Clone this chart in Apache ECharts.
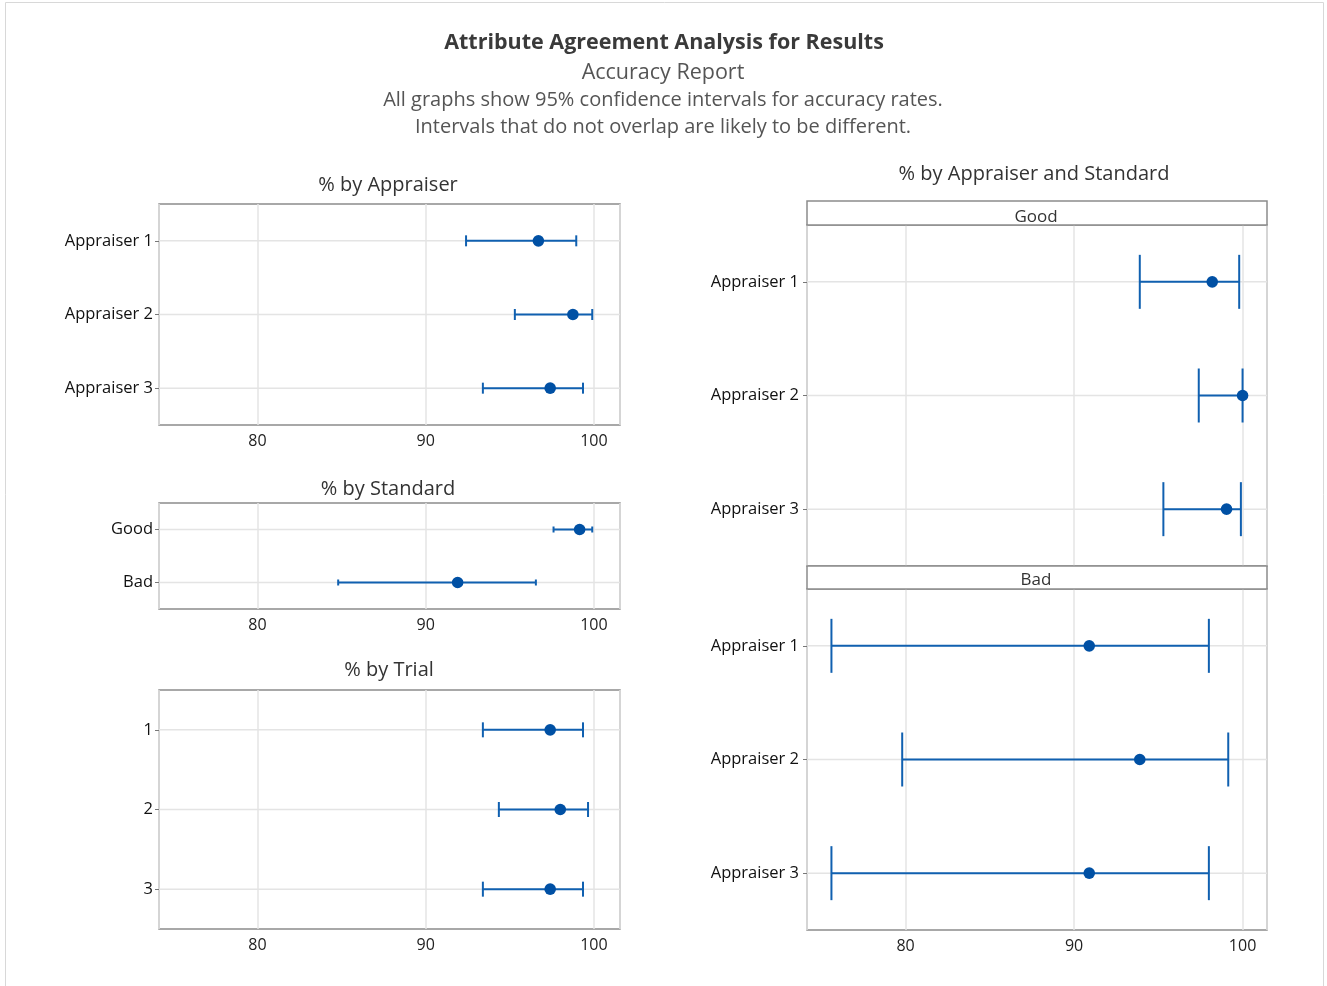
<!DOCTYPE html>
<html>
<head>
<meta charset="utf-8">
<script src="https://cdn.jsdelivr.net/npm/echarts@6/dist/echarts.min.js"></script>
<style>
html,body{margin:0;padding:0;background:#fff;}
#main{width:1327px;height:986px;}
</style>
</head>
<body>
<div id="main"></div>
<script>
// ---- Data ----
const appraisers = ['Appraiser 1', 'Appraiser 2', 'Appraiser 3'];
const standards = ['Good', 'Bad'];
const trials = ['1', '2', '3'];

const byAppraiserPct   = [96.7, 98.75, 97.4];
const byAppraiserLower = [92.4, 95.3, 93.4];
const byAppraiserUpper = [98.95, 99.9, 99.35];

const byStandardPct   = [99.15, 91.9];
const byStandardLower = [97.6, 84.8];
const byStandardUpper = [99.9, 96.55];

const byTrialPct   = [97.4, 98.0, 97.4];
const byTrialLower = [93.4, 94.35, 93.4];
const byTrialUpper = [99.35, 99.65, 99.35];

const goodPct   = [98.2, 100.0, 99.05];
const goodLower = [93.9, 97.4, 95.3];
const goodUpper = [99.8, 100.0, 99.9];

const badPct   = [90.9, 93.9, 90.9];
const badLower = [75.6, 79.8, 75.6];
const badUpper = [98.0, 99.15, 98.0];

const xTicks = [80, 90, 100];

// ---- Styles ----
const FONT = 'Open Sans';
const LINE_COLOR = '#1060b0';
const DOT_COLOR = '#0050a4';
const GRID_LINE = '#e4e4e4';
const BOX = '#8c8c8c';

function rows(lower, pct, upper) {
  return pct.map((p, i) => [i, lower[i], p, upper[i]]);
}

function makeRender(capHalf) {
  return function (params, api) {
    const cat = api.value(0);
    const lo = api.coord([api.value(1), cat]);
    const mid = api.coord([api.value(2), cat]);
    const hi = api.coord([api.value(3), cat]);
    const cs = params.coordSys;
    const y = mid[1];
    return {
      type: 'group',
      children: [
        { type: 'line', shape: { x1: cs.x, y1: y, x2: cs.x + cs.width, y2: y },
          style: { stroke: GRID_LINE, lineWidth: 1.5 }, z2: 1 },
        { type: 'line', shape: { x1: lo[0], y1: y, x2: hi[0], y2: y },
          style: { stroke: LINE_COLOR, lineWidth: 2 }, z2: 5 },
        { type: 'line', shape: { x1: lo[0], y1: y - capHalf, x2: lo[0], y2: y + capHalf },
          style: { stroke: LINE_COLOR, lineWidth: 2 }, z2: 5 },
        { type: 'line', shape: { x1: hi[0], y1: y - capHalf, x2: hi[0], y2: y + capHalf },
          style: { stroke: LINE_COLOR, lineWidth: 2 }, z2: 5 },
        { type: 'circle', shape: { cx: mid[0], cy: y, r: 5.8 },
          style: { fill: DOT_COLOR }, z2: 6 }
      ]
    };
  };
}

const panels = [
  { cats: appraisers, data: rows(byAppraiserLower, byAppraiserPct, byAppraiserUpper), cap: 5.5,
    grid: { left: 159, top: 204, width: 461, height: 221 }, xLabel: true, xmax: 101.55, labelMargin: 6 },
  { cats: standards, data: rows(byStandardLower, byStandardPct, byStandardUpper), cap: 3,
    grid: { left: 159, top: 503, width: 461, height: 106 }, xLabel: true, xmax: 101.55, labelMargin: 6 },
  { cats: trials, data: rows(byTrialLower, byTrialPct, byTrialUpper), cap: 7.5,
    grid: { left: 159, top: 690, width: 461, height: 239 }, xLabel: true, xmax: 101.55, labelMargin: 6 },
  { cats: appraisers, data: rows(goodLower, goodPct, goodUpper), cap: 27,
    grid: { left: 807, top: 225, width: 460, height: 341 }, xLabel: false, xmax: 101.45, labelMargin: 8 },
  { cats: appraisers, data: rows(badLower, badPct, badUpper), cap: 27,
    grid: { left: 807, top: 589, width: 460, height: 341 }, xLabel: true, xmax: 101.45, labelMargin: 8 }
];

const grids = [], xAxes = [], yAxes = [], series = [];
panels.forEach((p, i) => {
  grids.push(Object.assign({ show: true, borderColor: BOX, borderWidth: 1.5, backgroundColor: '#fff' }, p.grid));
  xAxes.push({
    type: 'value', gridIndex: i, min: 74.15, max: p.xmax, splitNumber: 3,
    axisLine: { show: false }, axisTick: { show: false },
    splitLine: { show: true, lineStyle: { color: GRID_LINE, width: 1.5 } },
    axisLabel: {
      show: p.xLabel, showMinLabel: false, showMaxLabel: false, margin: 8,
      color: '#222', fontFamily: FONT, fontSize: 16,
      formatter: v => (xTicks.indexOf(v) >= 0 ? String(v) : '')
    }
  });
  yAxes.push({
    type: 'category', gridIndex: i, data: p.cats, inverse: true,
    axisLine: { show: false },
    axisTick: { show: true, alignWithLabel: true, length: 4, lineStyle: { color: '#777' } },
    splitLine: { show: false },
    axisLabel: { color: '#111', fontFamily: FONT, fontSize: 16.5, margin: p.labelMargin }
  });
  series.push({
    type: 'custom', xAxisIndex: i, yAxisIndex: i,
    renderItem: makeRender(p.cap),
    encode: { x: [1, 2, 3], y: 0 },
    data: p.data, clip: false, silent: true
  });
});

function txt(text, x, y, size, color, weight) {
  return { type: 'text', x: x, y: y, z: 100,
    style: { text: text, fontFamily: FONT, fontSize: size, fill: color, fontWeight: weight || 'normal',
      textAlign: 'center', textVerticalAlign: 'middle' } };
}

const graphics = [
  { type: 'polyline', shape: { points: [[5.5, 990], [5.5, 2.5], [1323.5, 2.5], [1323.5, 990]] },
    style: { stroke: '#d8d8d8', lineWidth: 1, fill: null }, z: 0 },
  txt('Attribute Agreement Analysis for Results', 664, 43, 21.5, '#3a3a3a', 'bold'),
  txt('Accuracy Report', 663, 73, 21.5, '#555'),
  txt('All graphs show 95% confidence intervals for accuracy rates.', 663, 100, 20, '#555'),
  txt('Intervals that do not overlap are likely to be different.', 663, 127, 20, '#555'),
  txt('% by Appraiser', 388, 185, 20, '#333'),
  txt('% by Standard', 388, 489, 20, '#333'),
  txt('% by Trial', 389, 670, 20, '#333'),
  txt('% by Appraiser and Standard', 1034, 174, 20, '#333'),
  // facet strips
  { type: 'rect', shape: { x: 807, y: 201, width: 460, height: 24 },
    style: { fill: '#fff', stroke: BOX, lineWidth: 1.5 }, z: 50 },
  txt('Good', 1036, 217, 17, '#333'),
  { type: 'rect', shape: { x: 807, y: 566, width: 460, height: 23 },
    style: { fill: '#fff', stroke: BOX, lineWidth: 1.5 }, z: 50 },
  txt('Bad', 1036, 580, 17, '#333')
];

const chart = echarts.init(document.getElementById('main'), null, { renderer: 'canvas' });
chart.setOption({
  backgroundColor: '#fff',
  animation: false,
  grid: grids,
  xAxis: xAxes,
  yAxis: yAxes,
  series: series,
  graphic: graphics
});
</script>
</body>
</html>
